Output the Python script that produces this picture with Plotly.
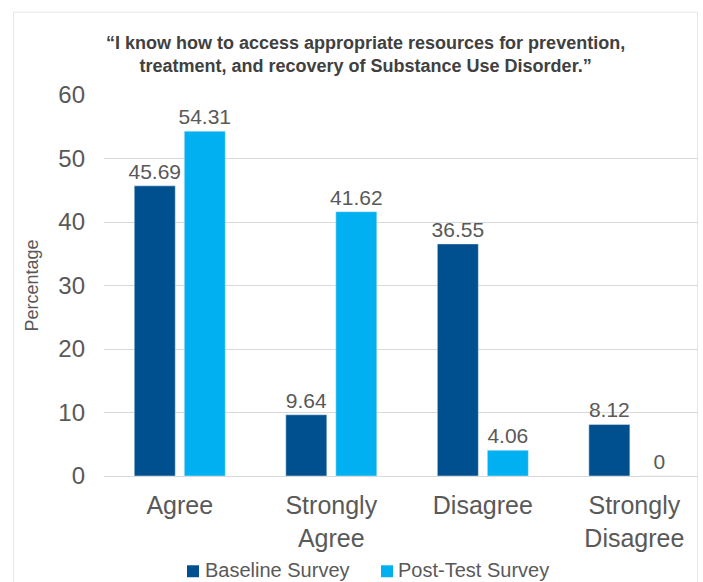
import plotly.graph_objects as go

categories = ["Agree", "Strongly<br>Agree", "Disagree", "Strongly<br>Disagree"]
baseline = [45.69, 9.64, 36.55, 8.12]
posttest = [54.31, 41.62, 4.06, 0]
baseline_labels = ["45.69", "9.64", "36.55", "8.12"]
posttest_labels = ["54.31", "41.62", "4.06", "0"]
series_names = ["Baseline Survey", "Post-Test Survey"]
y_ticks = [0, 10, 20, 30, 40, 50, 60]

FONT = "Liberation Sans, Arial, sans-serif"
GRAY = "#595959"
C_BASE = "#004F8F"
C_POST = "#00B0F0"

fig = go.Figure()
fig.add_trace(go.Bar(
    x=categories, y=baseline, name=series_names[0],
    marker=dict(color=C_BASE),
    text=baseline_labels, textposition="outside", constraintext="none",
    textfont=dict(size=21, color=GRAY, family=FONT),
    cliponaxis=False,
))
fig.add_trace(go.Bar(
    x=categories, y=posttest, name=series_names[1],
    marker=dict(color=C_POST),
    text=posttest_labels, textposition="outside", constraintext="none",
    textfont=dict(size=21, color=GRAY, family=FONT),
    cliponaxis=False,
))

W, H = 703, 582
ml, mr, mt, mb = 104, 5, 94.5, 105.5
pw = W - ml - mr
ph = H - mt - mb

def px(x):
    return (x - ml) / pw

def py(y):
    return (H - mb - y) / ph

fig.update_layout(
    width=W, height=H,
    margin=dict(l=ml, r=mr, t=mt, b=mb, autoexpand=False),
    paper_bgcolor="white", plot_bgcolor="white",
    font=dict(family=FONT, color=GRAY),
    barmode="group", bargap=0.34, bargroupgap=0.18,
    showlegend=False,
)
fig.update_xaxes(
    range=[-0.5, 3.42], showgrid=False, showline=True, automargin=False,
    linecolor="#D9D9D9", linewidth=1, ticks="",
    tickfont=dict(size=25, color=GRAY, family=FONT),
    ticklabelstandoff=7,
)
fig.update_yaxes(
    range=[0, 60], tickvals=y_ticks, showgrid=True, gridcolor="#D9D9D9",
    gridwidth=1, zeroline=False, showline=False, ticks="", automargin=False,
    tickfont=dict(size=24, color=GRAY, family=FONT),
    ticklabelstandoff=18,
    title=dict(text="Percentage", font=dict(size=18, color=GRAY, family=FONT), standoff=14),
)

fig.add_annotation(
    text="<b>“I know how to access appropriate resources for prevention,</b><br><b>treatment, and recovery of Substance Use Disorder.”</b>",
    xref="paper", yref="paper", x=px(365), y=py(54), xanchor="center", yanchor="middle",
    showarrow=False, align="center",
    font=dict(size=18, color="#404040", family=FONT),
)

# manual legend: swatches + labels
legend_items = [(187, 203, C_BASE, series_names[0]), (381, 396, C_POST, series_names[1])]
for sx, tx, col, name in legend_items:
    fig.add_shape(type="rect", xref="paper", yref="paper",
                  x0=px(sx), x1=px(sx + 12), y0=py(578), y1=py(566),
                  line=dict(width=0), fillcolor=col)
    fig.add_annotation(text=name, xref="paper", yref="paper",
                       x=px(tx), y=py(571), xanchor="left", yanchor="middle",
                       showarrow=False, font=dict(size=20, color=GRAY, family=FONT))

fig.add_shape(
    type="rect", xref="paper", yref="paper",
    x0=px(13.5), x1=px(697.5), y0=py(600), y1=py(11.5),
    line=dict(color="#E6E6E6", width=1), fillcolor="rgba(0,0,0,0)", layer="below",
)

fig.write_html("out.html", config={"displayModeBar": False},
               post_script="document.body.style.margin='0';")
